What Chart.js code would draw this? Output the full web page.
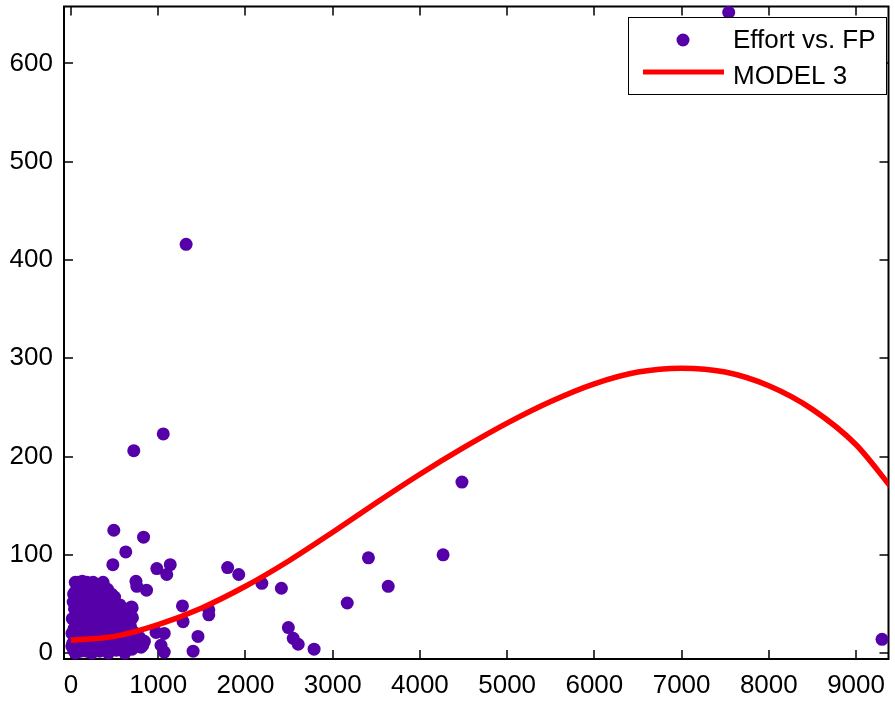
<!DOCTYPE html>
<html>
<head>
<meta charset="utf-8">
<script src="https://cdn.jsdelivr.net/npm/chart.js@4/dist/chart.umd.min.js"></script>
<style>
  html, body { margin: 0; padding: 0; background: #fff; }
  canvas { display: block; }
</style>
</head>
<body>
<canvas id="effortChart" width="895" height="702"></canvas>
<script>
// function points (x) vs effort (y)
const fpValues = [
  7540, 1320, 1058, 720, 4482, 4266, 3410, 3637, 3167, 2787,
  2412, 2188, 1923, 1796, 2492, 2548, 2605, 9298, 1580, 1580,
  1278, 1285, 1456, 1400, 1138, 1098, 984, 832, 491, 628,
  480, 745, 755, 866, 702, 705, 553, 455, 500, 368,
  320, 130, 78, 45, 975, 1069, 1032, 1069, 785, 823,
  842, 709, 804, 652,
  49, 182, 31, 296, 466, 106, 276, 561, 694, 88,
  390, 543, 125, 276, 429, 656, 11, 182, 353, 523,
  713, 10, 144, 315, 466, 637, 770, 49, 239, 429,
  618, 159, 254, 311, 330, 102, 444, 671, 577, 254,
  20, 60, 80, 100, 120, 150, 170, 200, 210, 230,
  250, 270, 290, 300, 340, 360, 380, 400, 410, 440,
  460, 480, 500, 520, 540, 580, 600, 620, 650, 680,
  60, 40, 140, 190, 230, 350, 30, 180, 330, 520,
  700, 110, 400, 250,
  15, 35, 70, 90, 130, 160, 175, 205, 220, 240,
  260, 285, 305, 320, 345, 370, 395, 420, 430, 450,
  470, 490, 510, 530, 560, 590, 610, 640, 665, 690,
  25, 115, 165, 270, 420
];
const effortValues = [
  652, 416, 223, 206, 174, 100, 97, 68, 51, 4,
  66, 71, 80, 87, 26, 15, 9, 14, 44, 39,
  48, 32, 17, 2, 90, 80, 86, 118, 125, 103,
  90, 73, 68, 64, 46, 36, 46, 60, 57, 72,
  65, 73, 72, 62, 21, 20, 8, 1, 16, 8,
  12, 16, 6, 20,
  72, 72, 60, 64, 60, 50, 54, 49, 47, 40,
  40, 40, 30, 33, 28, 33, 20, 23, 22, 20,
  22, 7, 7, 7, 7, 7, 7, 0, 0, 0,
  0, 51, 54, 51, 40, 42, 40, 35, 32, 72,
  10, 15, 5, 25, 12, 18, 35, 10, 45, 28,
  15, 5, 20, 38, 12, 30, 18, 8, 48, 15,
  35, 22, 10, 40, 25, 12, 22, 45, 10, 28,
  30, 45, 45, 58, 62, 55, 3, 2, 2, 3,
  4, 2, 25, 40,
  35, 25, 55, 18, 8, 28, 48, 22, 5, 50,
  32, 42, 28, 10, 45, 5, 32, 20, 52, 3,
  45, 30, 18, 5, 30, 38, 5, 30, 15, 10,
  52, 62, 65, 68, 65
];

// MODEL 3 curve, read every 500 FP
const modelFp = [0, 500, 1000, 1500, 2000, 2500, 3000, 3500, 4000, 4500,
  5000, 5500, 6000, 6500, 7000, 7500, 8000, 8500, 9000, 9400];
const modelEffort = [13, 17, 29, 46, 68, 94, 123, 153, 182, 209,
  234, 256, 274, 286, 290, 286, 272, 248, 212, 169];

const xTicks = [0, 1000, 2000, 3000, 4000, 5000, 6000, 7000, 8000, 9000];
const yTicks = [0, 100, 200, 300, 400, 500, 600];

const purple = 'rgb(85, 0, 168)';
const tickFont = { family: 'Arial, "Liberation Sans", sans-serif', size: 26 };

// box round the plot with inward ticks on all four sides
const boxPlugin = {
  id: 'boxPlugin',
  beforeDatasetsDraw(chart) {
    const { ctx, chartArea: a, scales: { x, y } } = chart;
    ctx.save();
    ctx.strokeStyle = '#000';
    ctx.lineWidth = 1.5;
    ctx.beginPath();
    xTicks.forEach(v => {
      const px = Math.round(x.getPixelForValue(v));
      ctx.moveTo(px, a.bottom); ctx.lineTo(px, a.bottom - 9);
      ctx.moveTo(px, a.top); ctx.lineTo(px, a.top + 9);
    });
    yTicks.forEach(v => {
      const py = Math.round(y.getPixelForValue(v));
      ctx.moveTo(a.left, py); ctx.lineTo(a.left + 9, py);
      ctx.moveTo(a.right, py); ctx.lineTo(a.right - 9, py);
    });
    ctx.stroke();
    ctx.lineWidth = 2;
    ctx.strokeRect(a.left, a.top, a.right - a.left, a.bottom - a.top);
    ctx.restore();
  }
};

// matlab style legend box in the upper right corner
const legendPlugin = {
  id: 'legendPlugin',
  afterDraw(chart) {
    const { ctx } = chart;
    const ds = chart.data.datasets;
    ctx.save();
    ctx.fillStyle = '#fff';
    ctx.fillRect(628, 17, 259, 78);
    ctx.strokeStyle = '#000';
    ctx.lineWidth = 1;
    ctx.strokeRect(628.5, 17.5, 258, 77);

    ctx.fillStyle = ds[0].backgroundColor;
    ctx.beginPath();
    ctx.arc(683, 40, 6.5, 0, Math.PI * 2);
    ctx.fill();

    ctx.strokeStyle = ds[1].borderColor;
    ctx.lineWidth = 5;
    ctx.beginPath();
    ctx.moveTo(643, 72); ctx.lineTo(724, 72);
    ctx.stroke();

    ctx.fillStyle = '#000';
    ctx.font = '26px Arial, "Liberation Sans", sans-serif';
    ctx.textBaseline = 'middle';
    ctx.fillText(ds[0].label, 733, 41);
    ctx.fillText(ds[1].label, 733, 77);
    ctx.restore();
  }
};

const noPadding = s => {
  s.paddingTop = 0; s.paddingBottom = 0;
  s.paddingLeft = 0; s.paddingRight = 0;
};

const ctx = document.getElementById('effortChart').getContext('2d');
new Chart(ctx, {
  type: 'scatter',
  data: {
    datasets: [
      {
        label: 'Effort vs. FP',
        data: fpValues.map((x, i) => ({ x: x, y: effortValues[i] })),
        backgroundColor: purple,
        borderColor: purple,
        pointRadius: 6.5,
        borderWidth: 0,
        clip: false,
        order: 2
      },
      {
        label: 'MODEL 3',
        data: modelFp.map((x, i) => ({ x: x, y: modelEffort[i] })),
        showLine: true,
        borderColor: '#ff0000',
        backgroundColor: '#ff0000',
        borderWidth: 5.5,
        pointRadius: 0,
        cubicInterpolationMode: 'monotone',
        order: 1
      }
    ]
  },
  options: {
    responsive: false,
    animation: false,
    layout: { padding: { top: 4, right: 0, left: 0, bottom: 0 } },
    plugins: {
      legend: { display: false },
      tooltip: { enabled: false }
    },
    scales: {
      x: {
        type: 'linear',
        min: -80,
        max: 9372,
        grid: { display: false, drawTicks: false },
        border: { display: false },
        afterBuildTicks: s => { s.ticks = xTicks.map(v => ({ value: v })); },
        afterFit: s => { s.height = 43; noPadding(s); },
        ticks: { font: tickFont, color: '#000', padding: 11, maxRotation: 0, autoSkip: false,
                 callback: v => String(v) }
      },
      y: {
        type: 'linear',
        min: -6,
        max: 658,
        grid: { display: false, drawTicks: false },
        border: { display: false },
        afterBuildTicks: s => { s.ticks = yTicks.map(v => ({ value: v })); },
        afterFit: s => { s.width = 64; noPadding(s); },
        ticks: { font: tickFont, color: '#000', padding: 11, autoSkip: false,
                 callback: v => String(v) }
      }
    }
  },
  plugins: [boxPlugin, legendPlugin]
});
</script>
</body>
</html>
